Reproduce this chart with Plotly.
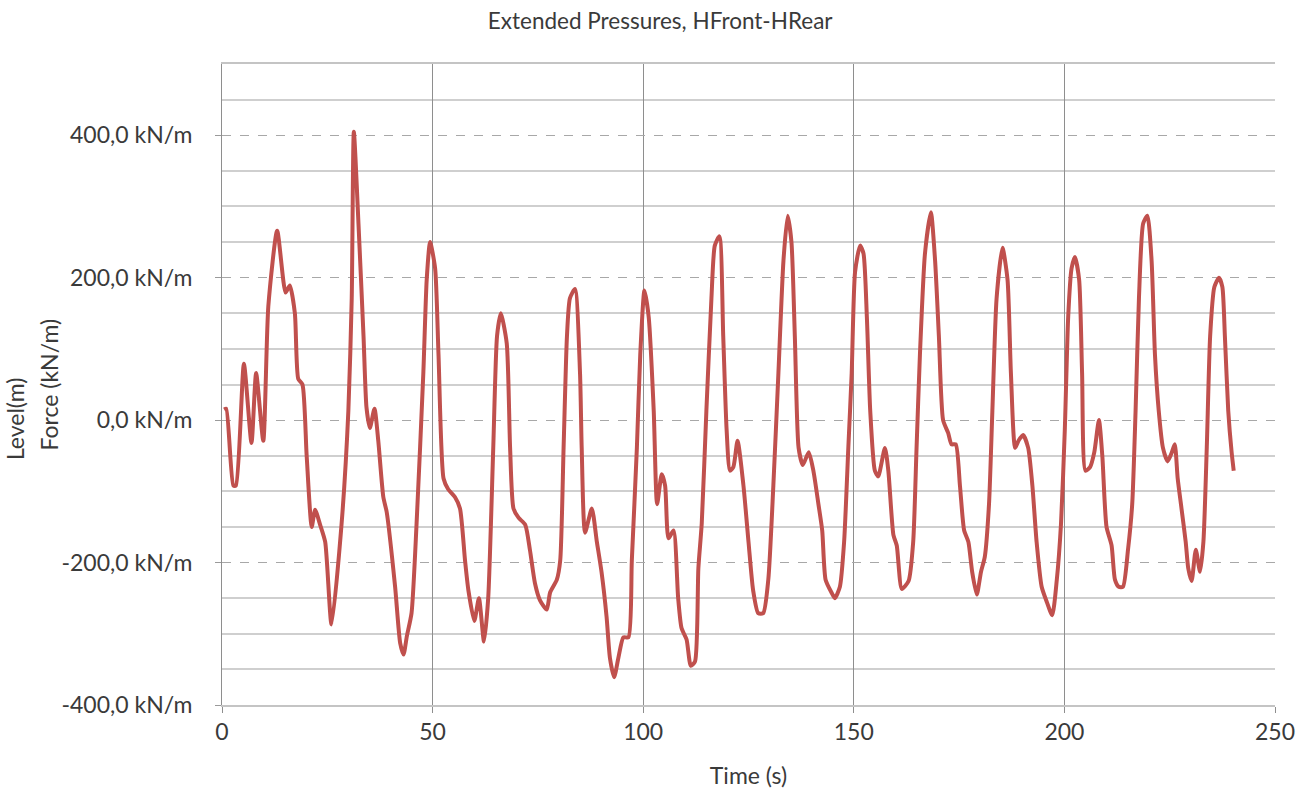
import plotly.graph_objects as go

time_s = [0.5, 1.0, 2.7, 3.3, 5.2, 7.0, 8.1, 9.8, 11.0, 13.1, 15.1, 16.1, 17.3, 18.1, 19.1,
          20.1, 21.3, 22.1, 23.3, 24.5, 26.0, 28.4, 30.0, 30.8, 31.3, 32.4, 33.6, 34.3, 35.1,
          36.2, 37.1, 38.3, 39.1, 41.1, 42.3, 43.1, 43.9, 45.0, 46.2, 47.8, 48.6, 49.4, 50.6,
          51.4, 52.6, 53.7, 55.3, 56.5, 57.7, 58.5, 59.9, 61.0, 62.2, 63.2, 64.4, 65.3, 66.2,
          67.6, 68.4, 69.2, 70.4, 72.0, 73.1, 74.3, 75.5, 77.1, 77.9, 79.5, 80.3, 81.1, 81.9,
          82.6, 83.8, 85.0, 85.4, 86.2, 87.8, 89.0, 90.1, 91.3, 92.1, 93.1, 94.1, 95.3, 96.5,
          97.3, 98.5, 99.3, 100.3, 101.3, 102.5, 103.3, 104.4, 105.2, 106.0, 107.2, 108.3,
          109.1, 110.3, 111.3, 112.3, 113.1, 113.9, 115.0, 116.2, 117.0, 118.1, 119.0, 119.8,
          120.6, 121.4, 122.4, 123.8, 125.0, 126.1, 127.3, 128.5, 129.7, 130.9, 132.1, 133.3,
          134.3, 135.2, 136.0, 136.9, 137.9, 139.3, 140.4, 141.6, 142.5, 143.3, 144.7, 145.5,
          146.7, 147.7, 148.7, 149.5, 150.3, 151.5, 152.3, 153.1, 153.9, 155.0, 155.8, 157.4,
          158.2, 159.4, 160.2, 161.4, 163.0, 164.1, 164.9, 165.7, 166.9, 168.3, 169.3, 170.2,
          171.2, 172.4, 173.2, 174.2, 175.2, 176.2, 177.2, 178.1, 179.2, 180.2, 181.1, 182.1,
          182.9, 183.9, 185.3, 186.5, 187.3, 188.3, 189.1, 190.2, 191.4, 192.4, 193.4, 194.6,
          195.8, 197.1, 198.2, 199.2, 200.1, 200.9, 201.7, 202.5, 203.5, 204.2, 205.0, 206.1,
          207.1, 208.2, 209.0, 210.0, 211.2, 212.0, 212.9, 213.9, 215.1, 216.1, 216.9, 217.7,
          218.7, 219.7, 220.7, 221.5, 222.4, 223.4, 224.5, 225.4, 226.2, 226.9, 227.8, 228.8,
          229.4, 230.2, 231.2, 232.2, 233.0, 233.8, 234.6, 235.6, 236.7, 237.5, 238.1, 238.9,
          239.7, 240.2]

force_kn_m = [15, 16, -92, -92, 79, -32, 66, -29, 160, 266, 179, 189, 150, 58, 50,
              -50, -150, -126, -147, -171, -287, -145, 13, 171, 405, 276, 118, 18, -11,
              16, -29, -108, -129, -234, -313, -329, -303, -271, -145, 66, 197, 250, 213,
              92, -82, -97, -108, -124, -197, -239, -282, -250, -311, -250, -39, 118, 150,
              108, -39, -124, -137, -147, -182, -229, -253, -266, -242, -224, -197, -39, 118,
              171, 184, 66, -39, -158, -124, -171, -213, -276, -334, -361, -334, -305, -305,
              -197, -39, 92, 182, 145, 13, -118, -76, -92, -166, -155, -250,
              -292, -308, -345, -339, -208, -145, 13, 171, 245, 258, 118, -13,
              -71, -66, -29, -92, -171, -239, -271, -271, -224, -92, 66, 224,
              287, 250, 118, -39, -63, -45, -71, -118, -155, -224, -242, -250,
              -234, -171, -39, 66, 208, 245, 234, 145, 13, -71, -79, -39,
              -71, -161, -176, -237, -226, -171, -39, 92, 234, 292, 224, 118,
              0, -18, -34, -34, -92, -155, -171, -213, -245, -213, -192, -118,
              13, 171, 242, 197, 66, -39, -29, -21, -39, -92, -171, -234,
              -255, -274, -224, -145, -13, 145, 213, 229, 197, 66, -71, -66,
              -45, 0, -50, -150, -176, -224, -234, -234, -182, -118, 13, 171,
              276, 287, 224, 92, 13, -39, -58, -47, -34, -82, -124, -171,
              -208, -226, -182, -213, -171, -39, 118, 187, 200, 187, 118, 13,
              -45, -71]

y_tick_vals = [-400, -200, 0, 200, 400]
y_tick_text = ["-400,0 kN/m", "-200,0 kN/m", "0,0 kN/m", "200,0 kN/m", "400,0 kN/m"]
y_minor_vals = [-350, -300, -250, -150, -100, -50, 50, 100, 150, 250, 300, 350, 450]
x_tick_vals = [0, 50, 100, 150, 200, 250]

FONT = "Lato"
TXT = "#3a3a3a"
FS = 23

W, H = 1297, 789

fig = go.Figure()
fig.add_trace(go.Scatter(
    x=time_s, y=force_kn_m, mode="lines",
    line=dict(color="#C0504D", width=4, shape="spline", smoothing=0.6),
    showlegend=False, hoverinfo="skip"))

fig.update_layout(
    width=W, height=H,
    margin=dict(l=222, r=22, t=64, b=84, autoexpand=False),
    paper_bgcolor="white", plot_bgcolor="white",
    font=dict(family=FONT, color=TXT),
    title=dict(text="Extended Pressures, HFront-HRear", x=0.509, xanchor="center",
               y=1 - 21 / H, yanchor="middle", font=dict(family=FONT, size=22.5, color=TXT)),
    showlegend=False,
)

fig.update_xaxes(
    range=[0, 250], tickvals=x_tick_vals, ticktext=[str(v) for v in x_tick_vals],
    showgrid=True, gridcolor="#8e8e8e", gridwidth=1,
    showline=True, linecolor="#c4c4c4", linewidth=1.5, mirror=True,
    ticks="outside", ticklen=6, tickcolor="#8e8e8e", ticklabeloverflow="allow",
    tickfont=dict(family=FONT, size=FS, color=TXT), zeroline=False,
    title=dict(text="Time (s)", font=dict(family=FONT, size=FS, color=TXT), standoff=27),
)

fig.update_yaxes(
    range=[-400, 500], tickvals=y_tick_vals, ticktext=y_tick_text,
    showgrid=True, gridcolor="#a8a8a8", gridwidth=1, griddash="dash",
    minor=dict(tickvals=y_minor_vals, showgrid=True, gridcolor="#cfcfcf",
               gridwidth=1.5, griddash="solid"),
    showline=True, linecolor="#8e8e8e", linewidth=1,
    ticks="outside", ticklen=6, tickcolor="#9a9a9a",
    tickfont=dict(family=FONT, size=FS, color=TXT), zeroline=False,
    ticklabelstandoff=18,
)

fig.add_annotation(text="Force (kN/m)", xref="paper", yref="paper", x=0, y=0.5,
                   xanchor="center", yanchor="middle",
                   xshift=-174, textangle=-90, showarrow=False,
                   font=dict(family=FONT, size=FS, color=TXT))
fig.add_annotation(text="Level(m)", xref="paper", yref="paper", x=0, y=0.446,
                   xanchor="center", yanchor="middle",
                   xshift=-207, textangle=-90, showarrow=False,
                   font=dict(family=FONT, size=FS, color=TXT))

fig.write_html("out.html",
               config={"displayModeBar": False},
               post_script="document.body.style.margin='0px';document.body.style.overflow='hidden';")
